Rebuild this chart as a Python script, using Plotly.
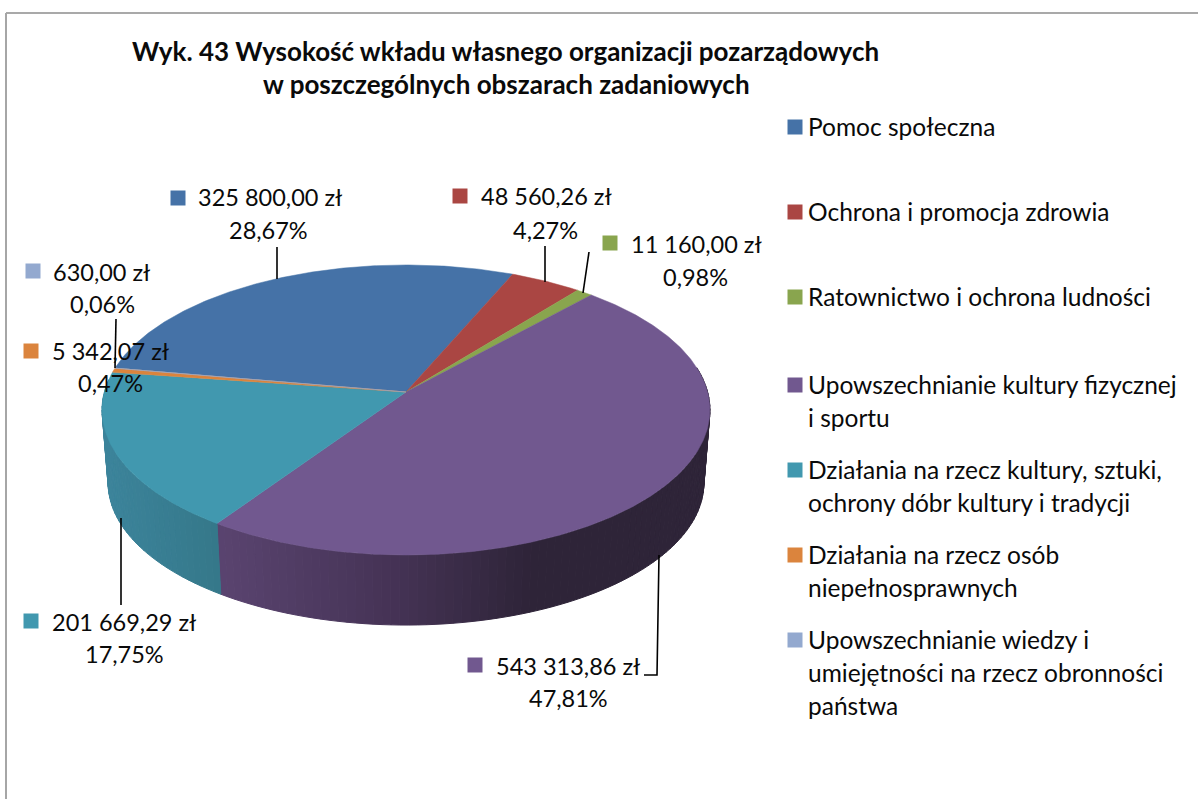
import math
import plotly.graph_objects as go

CATEGORIES = ["Pomoc społeczna", "Ochrona i promocja zdrowia", "Ratownictwo i ochrona ludności",
              "Upowszechnianie kultury fizycznej i sportu",
              "Działania na rzecz kultury, sztuki, ochrony dóbr kultury i tradycji",
              "Działania na rzecz osób niepełnosprawnych",
              "Upowszechnianie wiedzy i umiejętności na rzecz obronności państwa"]
VALUES = [325800.00, 48560.26, 11160.00, 543313.86, 201669.29, 5342.07, 630.00]
PERCENTS = ["28,67%", "4,27%", "0,98%", "47,81%", "17,75%", "0,47%", "0,06%"]
COLORS = ["#4572A7", "#AA4643", "#89A54E", "#71588F", "#4198AF", "#DB843D", "#93A9CF"]
TITLE_LINES = ["Wyk. 43 Wysokość wkładu własnego organizacji pozarządowych",
               "w poszczególnych obszarach zadaniowych"]
LEGEND_LINES = [["Pomoc społeczna"], ["Ochrona i promocja zdrowia"], ["Ratownictwo i ochrona ludności"],
                ["Upowszechnianie kultury fizycznej", "i sportu"],
                ["Działania na rzecz kultury, sztuki,", "ochrony dóbr kultury i tradycji"],
                ["Działania na rzecz osób", "niepełnosprawnych"],
                ["Upowszechnianie wiedzy i", "umiejętności na rzecz obronności", "państwa"]]

FONT = "Lato"
LABEL_SIZE = 23.5
LEGEND_SIZE = 24.5
TITLE_SIZE = 26

# pie projection
CX, CY = 406.0, 392.0
A, B, K = 301.6, 142.8, 0.124
START = -80.0
DEPTH, SCALE = 73.3, 0.98

def project(deg, floor=False):
    t = math.radians(deg)
    u, v = math.sin(t), -math.cos(t)
    w = 1 - K * v
    x, y = A * u / w, B * v / w
    if floor:
        return CX + SCALE * x, CY + DEPTH + SCALE * y
    return CX + x, CY + y

def ramp(stops, x):
    if x <= stops[0][0]:
        return stops[0][1]
    for (x0, c0), (x1, c1) in zip(stops, stops[1:]):
        if x <= x1:
            f = (x - x0) / (x1 - x0)
            return tuple(round(a + (b - a) * f) for a, b in zip(c0, c1))
    return stops[-1][1]

WALL_RAMPS = {
    3: [(217, (90, 68, 112)), (400, (68, 50, 84)), (530, (46, 36, 56))],
    4: [(105, (60, 132, 155)), (217, (53, 120, 138))],
}

total = sum(VALUES)
fig = go.Figure()

cum = 0.0
spans = []
for i, val in enumerate(VALUES):
    a0 = START + cum / total * 360
    cum += val
    a1 = START + cum / total * 360
    spans.append((a0, a1))

# side wall, drawn first so the top faces cover what is behind them
for i in WALL_RAMPS:
    a0, a1 = spans[i]
    a0c, a1c = max(a0, 80.0), min(a1, 275.0)
    n = max(2, int((a1c - a0c) / 1.5))
    for j in range(n):
        b0 = a0c + (a1c - a0c) * j / n
        b1 = a0c + (a1c - a0c) * (j + 1) / n
        p = [project(b0), project(b1), project(b1, True), project(b0, True)]
        xm = sum(q[0] for q in p) / 4
        c = "rgb(%d,%d,%d)" % ramp(WALL_RAMPS[i], xm)
        fig.add_trace(go.Scatter(x=[q[0] for q in p] + [p[0][0]], y=[q[1] for q in p] + [p[0][1]],
                                 mode="lines", fill="toself", fillcolor=c, line=dict(color=c, width=1),
                                 hoverinfo="skip", showlegend=False))

# top faces
for i, (a0, a1) in enumerate(spans):
    n = max(3, int((a1 - a0) / 0.5))
    pts = [project(a0 + (a1 - a0) * j / n) for j in range(n + 1)]
    xs = [CX] + [q[0] for q in pts] + [CX]
    ys = [CY] + [q[1] for q in pts] + [CY]
    fig.add_trace(go.Scatter(x=xs, y=ys, mode="lines", fill="toself", fillcolor=COLORS[i],
                             line=dict(color=COLORS[i], width=0.5), name=CATEGORIES[i],
                             hoverinfo="name", showlegend=False))

# leader lines
LEADERS = [[(277, 247), (277, 279)], [(545, 246), (545, 282)], [(589, 252), (583, 293)],
           [(659, 555), (657, 675), (644, 675)], [(121, 518), (121, 605)], [(116, 319), (115, 368)]]
for seg in LEADERS:
    fig.add_trace(go.Scatter(x=[p[0] for p in seg], y=[p[1] for p in seg], mode="lines",
                             line=dict(color="#000000", width=1.6), hoverinfo="skip", showlegend=False))

annotations = []
def text(x, y, s, anchor="center", size=LABEL_SIZE, bold=False):
    annotations.append(dict(x=x, y=y, xref="x", yref="y", text=f"<b>{s}</b>" if bold else s, showarrow=False,
                            xanchor=anchor, yanchor="middle", align=anchor,
                            font=dict(family=FONT, size=size, color="#0a0a0a")))

def money(v):
    return f"{v:,.2f}".replace(",", " ").replace(".", ",") + " zł"

for x, y, s in zip((505, 506), (51, 84), TITLE_LINES):
    text(x, y, s, size=TITLE_SIZE, bold=True)

# data labels: slice index, swatch x, swatch y, value text left, value y, percent centre x, percent y
DATA_LABELS = [(0, 178, 198, 196, 197, 268, 230), (1, 460, 196, 479, 196, 545, 230), (2, 610, 243, 629, 244, 695, 277),
               (3, 475, 665, 494, 666, 568, 698), (4, 31, 621, 50, 622, 124, 654), (5, 31, 351, 50, 351, 110, 383),
               (6, 33, 271, 51, 272, 102, 304)]
sx, sy, sc = [], [], []
for i, swx, swy, tx, ty, px, py in DATA_LABELS:
    sx.append(swx); sy.append(swy); sc.append(COLORS[i])
    text(tx, ty, money(VALUES[i]), anchor="left")
    text(px, py, PERCENTS[i])

LEGEND_Y = [127, 212, 297, 385, 470, 555, 640]
for i, y0 in enumerate(LEGEND_Y):
    sx.append(795); sy.append(y0); sc.append(COLORS[i])
    for k, line in enumerate(LEGEND_LINES[i]):
        text(806, y0 - 1 + k * 33, line, anchor="left", size=LEGEND_SIZE)

fig.add_trace(go.Scatter(x=sx, y=sy, mode="markers", hoverinfo="skip", showlegend=False,
                         marker=dict(symbol="square", size=15, color=sc, line=dict(width=0))))

fig.update_layout(
    width=1198, height=799, margin=dict(l=0, r=0, t=0, b=0),
    paper_bgcolor="white", plot_bgcolor="white", showlegend=False,
    xaxis=dict(range=[0, 1198], visible=False, fixedrange=True),
    yaxis=dict(range=[799, 0], visible=False, fixedrange=True),
    annotations=annotations,
    shapes=[dict(type="line", xref="x", yref="y", x0=6, y0=13, x1=1198, y1=13, line=dict(color="#8c8c8c", width=1.6)),
            dict(type="line", xref="x", yref="y", x0=6, y0=13, x1=6, y1=799, line=dict(color="#a6a6a6", width=2))],
)
fig.write_html("out.html", config=dict(displayModeBar=False), include_plotlyjs=True,
               post_script="document.body.style.margin='0';document.documentElement.style.overflow='hidden';")
